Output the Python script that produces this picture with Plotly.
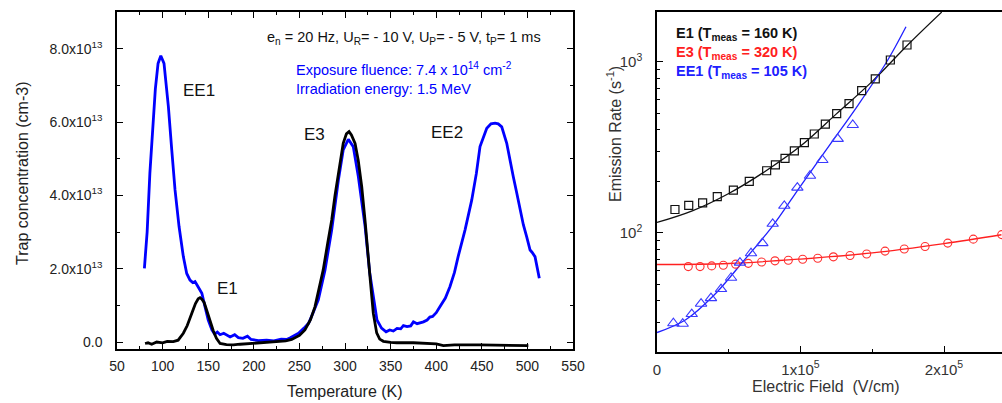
import plotly.graph_objects as go

# ---------------- Left panel: DLTS spectra (values in units of 1e13 cm^-3) ----------------
temp_irr = [80, 83, 86, 89, 92, 95, 98, 101.5, 104, 106.3, 110, 113.6, 118, 122.7, 126.4, 130, 133, 135.5,
            139, 143, 146.5, 150, 154, 157, 160, 163, 167, 170, 174, 179, 183, 188, 193, 197, 205, 214,
            222, 230, 236, 240, 245, 249, 255, 260, 265, 270.7, 278, 285.4, 292.7, 298, 303.6, 309, 314.6,
            322, 327, 331, 335, 340, 345, 349, 353, 357, 361, 364, 368, 372, 375, 379, 383, 386, 390, 393,
            396, 400, 404, 410, 415, 420, 424, 431.6, 438.9, 444, 448, 451, 455.4, 460, 464.5, 468, 471.8,
            477.3, 481, 484.5, 488, 491.9, 495.5, 499.2, 502.9, 505, 508.3, 513]
conc_irr = [2.01, 3.0, 4.6, 5.9, 6.9, 7.6, 7.81, 7.6, 7.0, 6.42, 5.24, 4.15, 3.15, 2.33, 1.87, 1.69, 1.62, 1.65,
            1.5, 1.33, 0.96, 0.60, 0.33, 0.22, 0.27, 0.2, 0.24, 0.19, 0.14, 0.2, 0.12, 0.1, 0.16, 0.07, 0.04, 0.05,
            0.03, 0.08, 0.07, 0.12, 0.18, 0.24, 0.38, 0.51, 0.8, 1.15, 1.96, 3.06, 4.42, 5.24, 5.53, 5.33, 4.51,
            3.15, 1.9, 1.2, 0.6, 0.38, 0.28, 0.33, 0.3, 0.37, 0.36, 0.45, 0.42, 0.44, 0.55, 0.5, 0.52, 0.55, 0.6, 0.68,
            0.7, 0.8, 0.96, 1.2, 1.51, 1.9, 2.33, 3.06, 3.87, 4.6, 5.33, 5.55, 5.83, 5.95, 5.97, 5.95, 5.87,
            5.42, 5.0, 4.51, 4.1, 3.6, 3.2, 2.87, 2.51, 2.45, 2.33, 1.74]

temp_ref = [80.7, 84, 88, 93.5, 100, 105, 111.7, 117, 122.7, 127, 131.9, 136, 139, 141, 143, 145.5, 148.4, 152,
            155.6, 159, 163, 170, 177.5, 185, 195, 205, 215, 225, 235, 241.5, 250, 256, 262, 267, 271, 276, 281,
            285.4, 289, 292.7, 298, 301.5, 304.4, 307, 311, 314.5, 318.3, 322, 325.5, 328, 331, 334.7, 338, 342,
            350, 356.7, 375, 393, 400, 407.8, 420, 448, 470, 490, 501]
conc_ref = [-0.04, -0.02, -0.06, 0.0, -0.02, 0.02, 0.01, 0.05, 0.24, 0.45, 0.78, 1.05, 1.18, 1.21, 1.17, 1.08, 0.86, 0.55,
            0.30, 0.1, -0.04, -0.07, -0.08, -0.06, -0.04, -0.03, -0.02, 0.0, 0.03, 0.07, 0.18, 0.33, 0.6, 0.96, 1.4, 1.96, 2.7,
            3.33, 4.0, 4.6, 5.42, 5.68, 5.74, 5.65, 5.42, 4.95, 4.24, 3.3, 2.42, 1.6, 0.78, 0.25, 0.08, 0.02,
            -0.01, -0.02, -0.02, -0.04, -0.05, -0.1, -0.08, -0.08, -0.09, -0.08, -0.1]

left_xticks = [50, 100, 150, 200, 250, 300, 350, 400, 450, 500, 550]
left_yticks = [0, 2, 4, 6, 8]
left_yticktext = ["0.0", "2.0x10<sup>13</sup>", "4.0x10<sup>13</sup>", "6.0x10<sup>13</sup>", "8.0x10<sup>13</sup>"]

# ---------------- Right panel: emission rate vs electric field ----------------
e1_field = [12.5e3, 22.1e3, 31.8e3, 42.0e3, 53.2e3, 64.3e3, 76.4e3, 82.5e3, 89.2e3, 95.7e3, 102.7e3, 109.6e3,
            117.3e3, 125.2e3, 133.8e3, 142.6e3, 152.1e3, 162.6e3, 174.2e3]
e1_rate = [137, 145, 150, 163, 178, 200, 231, 250, 273, 302, 337, 379, 433, 499, 570, 680, 796, 1027, 1257]
e1_fit_field = [0, 25e3, 50e3, 75e3, 100e3, 125e3, 150e3, 175e3, 198.4e3]
e1_fit_rate = [115, 135, 170, 228, 322, 497, 770, 1265, 1958]

e3_field = [21.8e3, 30.0e3, 38.1e3, 46.2e3, 54.8e3, 63.6e3, 72.9e3, 82.2e3, 91.5e3, 101.5e3, 112e3, 122.9e3,
            134.5e3, 146.1e3, 158.9e3, 172.3e3, 186.8e3, 202.6e3, 220.4e3, 240.2e3]
e3_rate = [63.5, 63.5, 64.1, 64.7, 65.6, 66.3, 67.5, 68.6, 69.2, 70.1, 71.1, 72.4, 73.7, 75.3, 78.2, 80.5, 83.2,
           87.1, 91.9, 97.7]
e3_fit_field = [0, 50e3, 100e3, 150e3, 200e3, 240e3]
e3_fit_rate = [65.3, 66.2, 70.3, 76.3, 86.5, 97.5]

ee1_field = [11.4e3, 17.9e3, 24.2e3, 30.7e3, 37.6e3, 44.6e3, 51.6e3, 57.8e3, 65.5e3, 73.4e3, 80.6e3, 88.7e3,
             97.8e3, 106.6e3, 115.2e3, 125.9e3, 136.4e3]
ee1_rate = [29.6, 29.4, 33.5, 38.5, 41.5, 46.9, 54.6, 67.0, 76.0, 87.1, 113, 144, 184, 216, 267, 355, 428]
ee1_fit_field = [0, 20e3, 40e3, 60e3, 80e3, 100e3, 120e3, 140e3, 160e3, 173.5e3]
ee1_fit_rate = [26.1, 31, 43.4, 68, 108, 188, 324, 558, 1000, 1607]

right_xticks = [0, 1e5, 2e5]
right_xticktext = ["0", "1x10<sup>5</sup>", "2x10<sup>5</sup>"]
right_yticks = [100, 1000]
right_yticktext = ["10<sup>2</sup>", "10<sup>3</sup>"]
right_yminor = [30, 40, 50, 60, 70, 80, 90, 200, 300, 400, 500, 600, 700, 800, 900]

FONT = "Liberation Sans, Arial, sans-serif"
BLUE = "#0000ff"

fig = go.Figure()

fig.add_trace(go.Scatter(x=temp_irr, y=conc_irr, mode="lines", line=dict(color=BLUE, width=2.8),
                         xaxis="x", yaxis="y", showlegend=False))
fig.add_trace(go.Scatter(x=temp_ref, y=conc_ref, mode="lines", line=dict(color="black", width=2.8),
                         xaxis="x", yaxis="y", showlegend=False))

fig.add_trace(go.Scatter(x=e1_fit_field, y=e1_fit_rate, mode="lines", line=dict(color="#111111", width=1.3, shape="spline"),
                         xaxis="x2", yaxis="y2", showlegend=False))
fig.add_trace(go.Scatter(x=e3_fit_field, y=e3_fit_rate, mode="lines", line=dict(color="#ff2020", width=1.3, shape="spline"),
                         xaxis="x2", yaxis="y2", showlegend=False))
fig.add_trace(go.Scatter(x=ee1_fit_field, y=ee1_fit_rate, mode="lines", line=dict(color="#2020ff", width=1.3, shape="spline"),
                         xaxis="x2", yaxis="y2", showlegend=False))
fig.add_trace(go.Scatter(x=e1_field, y=e1_rate, mode="markers",
                         marker=dict(symbol="square-open", size=8, color="#111111", line=dict(width=1.2)),
                         xaxis="x2", yaxis="y2", showlegend=False))
fig.add_trace(go.Scatter(x=e3_field, y=e3_rate, mode="markers",
                         marker=dict(symbol="circle-open", size=8, color="#ff3030", line=dict(width=1.1)),
                         xaxis="x2", yaxis="y2", showlegend=False))
fig.add_trace(go.Scatter(x=ee1_field, y=ee1_rate, mode="markers",
                         marker=dict(symbol="triangle-up-open", size=10, color="#3a3aff", line=dict(width=1.1)),
                         xaxis="x2", yaxis="y2", showlegend=False))

axis_common = dict(showgrid=False, zeroline=False, showline=True, linecolor="black", linewidth=1.5,
                   ticks="inside", ticklen=6, tickwidth=1.2, tickcolor="black", automargin=False)

fig.update_layout(
    width=1002, height=403, margin=dict(l=0, r=0, t=0, b=0, autoexpand=False),
    paper_bgcolor="white", plot_bgcolor="white",
    font=dict(family=FONT, size=14, color="#222222"),
    xaxis=dict(domain=[0.1168, 0.5719], range=[50, 550], tickvals=left_xticks, anchor="y",
               mirror="ticks", ticklabelstandoff=3,
               minor=dict(dtick=25, ticks="inside", ticklen=3, tickcolor="black"),
               tickfont=dict(size=14, color="#222222"), **axis_common),
    yaxis=dict(domain=[0.134, 0.970], range=[-0.19, 9.0], tickvals=left_yticks, ticktext=left_yticktext,
               anchor="x", mirror="ticks", ticklabelstandoff=10,
               minor=dict(dtick=1, ticks="inside", ticklen=3, tickcolor="black"),
               tickfont=dict(size=14, color="#222222"), **axis_common),
    xaxis2=dict(domain=[0.6557, 1.0], range=[0, 2.404e5], tickvals=right_xticks, ticktext=right_xticktext,
                anchor="y2", mirror=True, ticklabelstandoff=3,
                minor=dict(dtick=5e4, ticks="inside", ticklen=3, tickcolor="black"),
                tickfont=dict(size=15, color="#333333"), **axis_common),
    yaxis2=dict(domain=[0.1266, 0.970], type="log", range=[1.303, 3.292], tickvals=right_yticks,
                ticktext=right_yticktext, anchor="x2", mirror=False, ticklabelstandoff=10,
                minor=dict(tickvals=right_yminor, ticks="inside", ticklen=3, tickcolor="black"),
                tickfont=dict(size=15, color="#333333"), **axis_common),
)

ann = []
def A(x, y, text, size=14, color="#111111", xanchor="center", textangle=0):
    ann.append(dict(x=x / 1002, y=1 - y / 403, xref="paper", yref="paper", text=text, showarrow=False,
                    xanchor=xanchor, yanchor="middle", textangle=textangle,
                    font=dict(family=FONT, size=size, color=color)))

# left panel texts
A(22, 174, "Trap concentration (cm-3)", size=16, color="#222222", textangle=-90)
A(345, 391, "Temperature (K)", size=16, color="#222222")
A(543, 38, "e<sub>n</sub> = 20 Hz, U<sub>R</sub>= - 10 V, U<sub>P</sub>= - 5 V, t<sub>P</sub>= 1 ms",
  size=14.5, color="#111111", xanchor="right")
A(294, 69, "Exposure fluence: 7.4 x 10<sup>14</sup> cm<sup>-2</sup>", size=14.5, color=BLUE, xanchor="left")
A(294, 89, "Irradiation energy: 1.5 MeV", size=14.5, color=BLUE, xanchor="left")
A(199, 90, "EE1", size=17)
A(227, 288, "E1", size=17)
A(314, 134, "E3", size=17)
A(447, 132, "EE2", size=17)

# right panel texts
A(614, 134, "Emission Rate (s<sup>-1</sup>)", size=16, color="#333333", textangle=-90)
A(826, 386, "Electric Field  (V/cm)", size=16, color="#333333")
A(674, 34, "<b>E1 (T<sub>meas</sub> = 160 K)</b>", size=14.5, color="#111111", xanchor="left")
A(674, 53, "<b>E3 (T<sub>meas</sub> = 320 K)</b>", size=14.5, color="#ff2020", xanchor="left")
A(674, 72, "<b>EE1 (T<sub>meas</sub> = 105 K)</b>", size=14.5, color="#2020ff", xanchor="left")

fig.update_layout(annotations=ann)
fig.write_html(
    "out.html",
    config={"displayModeBar": False},
    post_script="document.documentElement.style.overflow='hidden';"
                "document.body.style.overflow='hidden';document.body.style.margin='0';",
)
